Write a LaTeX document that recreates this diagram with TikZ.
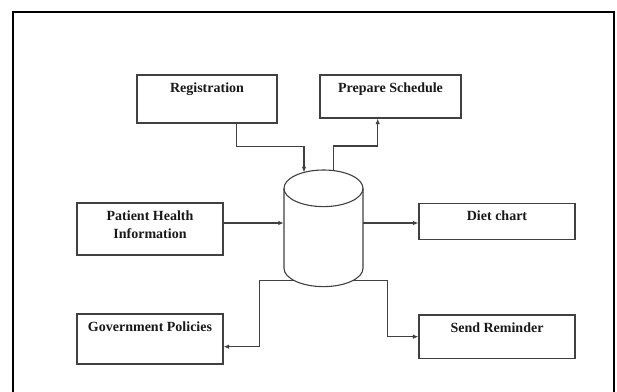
\documentclass[tikz,border=0pt]{standalone}
\usepackage{fontspec}
\setmainfont{Liberation Serif}
\usetikzlibrary{arrows.meta}
\begin{document}
\begin{tikzpicture}[x=1pt,y=-1pt,
  box/.style={draw=black!75, line width=1.1pt, inner sep=0pt, fill=white},
  lbl/.style={font=\bfseries\fontsize{14}{18}\selectfont, inner sep=0pt, anchor=north, align=center, text=black!90},
  conn/.style={draw=black!75, line width=1.1pt, -{Latex[length=5.5pt,width=4.5pt]}},
  shapeline/.style={draw=black!75, line width=1.1pt}]
\useasboundingbox (0,0) rectangle (617,391);
% outer frame (open at the bottom)
\draw[line width=2pt] (13,394) -- (13,12) -- (614,12) -- (614,394);

% boxes
\node[box, minimum width=140pt, minimum height=48pt] (reg) at (207,99) {};
\node[lbl] (regt) at ([yshift=-8.5pt]reg.north) {Registration};
\node[box, minimum width=141pt, minimum height=43pt] (sched) at (390.5,96.5) {};
\node[lbl] (schedt) at ([yshift=-8.5pt]sched.north) {Prepare Schedule};
\node[box, minimum width=146pt, minimum height=52pt] (phi) at (150,229) {};
\node[lbl] (phit) at ([yshift=-8.5pt]phi.north) {Patient Health\\Information};
\node[box, minimum width=156pt, minimum height=36.5pt] (diet) at (497,221.3) {};
\node[lbl] (diett) at ([yshift=-8.5pt]diet.north) {Diet chart};
\node[box, minimum width=146pt, minimum height=50pt] (gov) at (150,339) {};
\node[lbl] (govt) at ([yshift=-8.5pt]gov.north) {Government Policies};
\node[box, minimum width=156pt, minimum height=43.5pt] (send) at (497,336.7) {};
\node[lbl] (sendt) at ([yshift=-8.5pt]send.north) {Send Reminder};

% database cylinder
\draw[shapeline] (284,188.3) -- (284,268.3)
  arc[start angle=180, end angle=360, x radius=39.5pt, y radius=18.3pt] -- (363,188.3);
\draw[shapeline] (323.5,188.3) ellipse [x radius=39.5pt, y radius=18.3pt];
\node[minimum width=79pt, minimum height=80pt, inner sep=0pt] (db) at (323.5,228.3) {};
\coordinate (dbin) at (304,172.4);
\coordinate (dbout) at (333.3,170.6);
\coordinate (dbbl) at (294.5,280.7);
\coordinate (dbbr) at (352.5,280.7);

% connectors
\coordinate (regout) at ([xshift=29.7pt]reg.south);
\draw[conn] (regout) -- ++(0,23) -| (dbin);
\coordinate (schedin) at ([xshift=-12.8pt]sched.south);
\draw[conn] (dbout) -- ++(0,-24.6) -| (schedin);
\coordinate (phiout) at ([yshift=6pt]phi.east);
\draw[conn] (phiout) -- (phiout -| db.west);
\coordinate (dietin) at ([yshift=-1.7pt]diet.west);
\draw[conn] (dietin -| db.east) -- (dietin);
\coordinate (govin) at ([yshift=-7.7pt]gov.east);
\draw[conn] (dbbl) -- ++(-35.2,0) |- (govin);
\draw[conn] (dbbr) -- ++(34.8,0) |- (send.west);
\end{tikzpicture}
\end{document}
